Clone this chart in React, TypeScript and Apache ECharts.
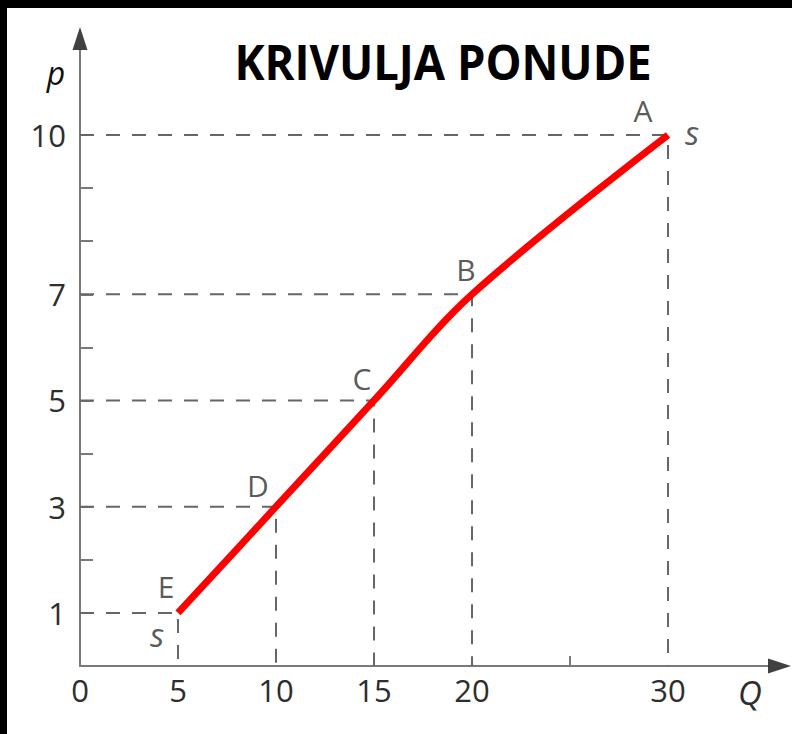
import React, { useEffect, useRef } from "react";
import * as echarts from "echarts";

// ---- data ----
const pointNames = ["E", "D", "C", "B", "A"];
const quantity = [5, 10, 15, 20, 30];
const price = [1, 3, 5, 7, 10];
const yTickValues = [1, 2, 3, 4, 5, 6, 7, 8, 9, 10];
const yLabelValues = [1, 3, 5, 7, 10];
const xLabelValues = [0, 5, 10, 15, 20, 30];
const xTickValues = [25];
const curveLabel = "s";
const titleText = "KRIVULJA PONUDE";
const yName = "p";
const xName = "Q";

// axis extents (arrow bases)
const X_MAX = 35.1;
const Y_MAX = 11.6;

// label offsets (style only)
const letterOffsets: Record<string, [number, number]> = {
  A: [-25, -24],
  B: [-6, -25],
  C: [-12, -22],
  D: [-18, -21],
  E: [-12, -26],
};

const W = 792;
const H = 734;

export default function App() {
  const ref = useRef<HTMLDivElement>(null);
  useEffect(() => {
    if (!ref.current) return;
    const chart = echarts.init(ref.current, undefined, { renderer: "svg" });
    const axisColor = "#7a7a7a";
    const textColor = "#2e2e2e";
    const font = "'Open Sans', 'Noto Sans', sans-serif";

    const guideSeries = quantity.map((q, i) => ({
      type: "line" as const,
      data: [
        [0, price[i]],
        [q, price[i]],
        [q, 0],
      ],
      symbol: "none",
      silent: true,
      z: 2,
      lineStyle: { color: "#666666", width: 2, type: [14, 12] },
    }));

    const curveData = quantity.map((q, i) => [q, price[i]]);

    const letterData = quantity.map((q, i) => ({
      name: pointNames[i],
      value: [q, price[i]],
      label: { offset: letterOffsets[pointNames[i]] },
    }));

    const sData = [
      { name: curveLabel, value: [quantity[quantity.length - 1], price[price.length - 1]], label: { offset: [24, -2] } },
      { name: curveLabel, value: [quantity[0], price[0]], label: { offset: [-21, 22] } },
    ];

    chart.setOption({
      animation: false,
      backgroundColor: "#ffffff",
      grid: { left: 80, right: 24, top: 50, bottom: 68, containLabel: false },
      xAxis: {
        type: "value",
        min: 0,
        max: X_MAX,
        splitLine: { show: false },
        axisLine: {
          show: true,
          onZero: false,
          lineStyle: { color: axisColor, width: 2 },
        },
        axisTick: {
          show: true,
          inside: true,
          length: 10,
          customValues: xTickValues,
          lineStyle: { color: axisColor, width: 2 },
        },
        axisLabel: {
          customValues: xLabelValues,
          fontSize: 31,
          color: textColor,
          fontFamily: font,
          margin: 8,
        },
      },
      yAxis: {
        type: "value",
        min: 0,
        max: Y_MAX,
        splitLine: { show: false },
        axisLine: {
          show: true,
          onZero: false,
          lineStyle: { color: axisColor, width: 2 },
        },
        axisTick: {
          show: true,
          inside: true,
          length: 13,
          customValues: yTickValues,
          lineStyle: { color: axisColor, width: 2 },
        },
        axisLabel: {
          customValues: yLabelValues,
          fontSize: 31,
          color: textColor,
          fontFamily: font,
          margin: 14,
        },
      },
      series: [
        ...guideSeries,
        {
          type: "line",
          data: curveData,
          smooth: 0.35,
          symbol: "none",
          z: 5,
          lineStyle: { color: "#ff0000", width: 7, cap: "butt" },
        },
        {
          type: "scatter",
          data: letterData,
          symbolSize: 0,
          silent: true,
          z: 6,
          label: {
            show: true,
            position: "inside",
            formatter: "{b}",
            fontSize: 30,
            color: textColor,
            fontFamily: font,
          },
        },
        {
          type: "scatter",
          data: sData,
          symbolSize: 0,
          silent: true,
          z: 6,
          label: {
            show: true,
            position: "inside",
            formatter: "{b}",
            fontSize: 33,
            fontStyle: "italic",
            color: textColor,
            fontFamily: font,
          },
        },
        // axis arrowheads
        {
          type: "scatter",
          clip: false,
          silent: true,
          z: 7,
          data: [[0, Y_MAX]],
          symbol: "triangle",
          symbolSize: [15, 23],
          symbolOffset: [0, -11.5],
          itemStyle: { color: "#111" },
        },
        {
          type: "scatter",
          clip: false,
          silent: true,
          z: 7,
          data: [[X_MAX, 0]],
          symbol: "triangle",
          symbolSize: [15, 23],
          symbolRotate: -90,
          symbolOffset: [11.5, 0],
          itemStyle: { color: "#111" },
        },
      ],
      graphic: [
        { type: "rect", shape: { x: 0, y: 0, width: W, height: 8 }, style: { fill: "#000" }, z: 100 },
        { type: "rect", shape: { x: 0, y: 0, width: 7, height: H }, style: { fill: "#000" }, z: 100 },
        {
          type: "text",
          x: 443,
          y: 61,
          scaleX: 0.945,
          style: {
            text: titleText,
            fontSize: 48,
            fontWeight: "bold",
            fontFamily: font,
            fill: "#000",
            align: "center",
            verticalAlign: "middle",
          },
        },
        {
          type: "text",
          x: 56,
          y: 72,
          style: {
            text: yName,
            fontSize: 32,
            fontStyle: "italic",
            fontFamily: font,
            fill: "#111",
            align: "center",
            verticalAlign: "middle",
          },
        },
        {
          type: "text",
          x: 750,
          y: 692,
          style: {
            text: xName,
            fontSize: 33,
            fontStyle: "italic",
            fontFamily: font,
            fill: textColor,
            align: "center",
            verticalAlign: "middle",
          },
        },
      ],
    });
    return () => chart.dispose();
  }, []);

  return (
    <div
      ref={ref}
      style={{ position: "absolute", left: 0, top: 0, width: W, height: H }}
    />
  );
}
